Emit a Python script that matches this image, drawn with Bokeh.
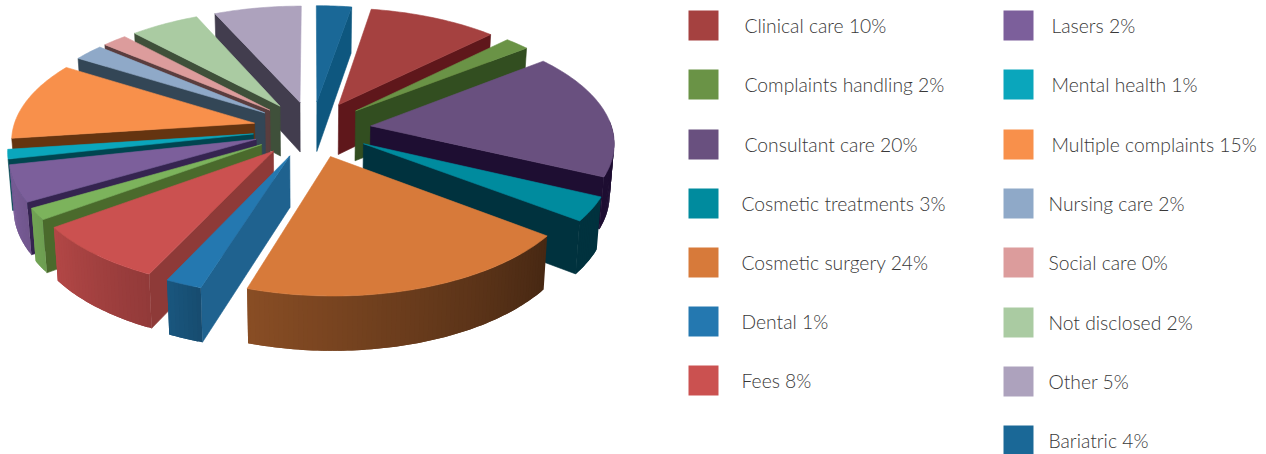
import numpy as np
from bokeh.plotting import figure
from bokeh.models import Range1d, ColumnDataSource
from bokeh.core.properties import value
from bokeh.embed import file_html
from bokeh.resources import INLINE

# ---- data (clockwise from 12 o'clock)
slice_names = ["Bariatric", "Clinical care", "Complaints handling", "Consultant care",
               "Cosmetic treatments", "Cosmetic surgery", "Dental", "Fees", "(unlabelled)",
               "Lasers", "Mental health", "Multiple complaints", "Nursing care",
               "Social care", "Not disclosed", "Other"]
slice_shares = [2.7, 9.9, 1.9, 17.5, 3.3, 19.6, 2.1, 8.0, 1.6, 5.0, 1.3, 10.9, 2.3, 1.9, 5.3, 6.7]
slice_colors = ["#1a6897", "#a54140", "#6a9346", "#69507f", "#008b9e", "#d77a3a", "#2478b0",
                "#cb5150", "#7cb35c", "#7c5f9b", "#0aa6bc", "#f8904b", "#8fa9c8", "#dc9c9c",
                "#aacba2", "#ada2bd"]
# colour of each slice's visible cut face
side_colors = ["#0e577f", "#5f171b", "#324e20", "#1e0e32", "#00323e", "#5a2e0e", "#1f628f",
               "#8e3a38", "#4a6a2c", "#352450", "#004550", "#653410", "#334656", "#5a3d3e",
               "#3f503a", "#423d4e"]

# legend
legend_col1 = ["Clinical care 10%", "Complaints handling 2%", "Consultant care 20%",
               "Cosmetic treatments 3%", "Cosmetic surgery 24%", "Dental 1%", "Fees 8%"]
legend_col1_colors = ["#a54140", "#6a9346", "#69507f", "#008b9e", "#d77a3a", "#2478b0", "#cb5150"]
legend_col1_top = [10, 69, 129, 188, 247, 306, 365]
legend_col1_tx = [744, 744, 744, 741, 741, 741, 741]
legend_col2 = ["Lasers 2%", "Mental health 1%", "Multiple complaints 15%", "Nursing care 2%",
               "Social care 0%", "Not disclosed 2%", "Other 5%", "Bariatric 4%"]
legend_col2_colors = ["#7c5f9b", "#0aa6bc", "#f8904b", "#8fa9c8", "#dc9c9c", "#aacba2", "#ada2bd", "#1a6897"]
legend_col2_top = [10, 69, 129, 188, 247, 307, 366, 425]
legend_col2_tx = [1051, 1051, 1051, 1048, 1048, 1048, 1048, 1048]

# ---- pie model
CX, CY, BX, BY, PERSP = 311.5, 128.5, 241.5, 114.5, 0.125
EXPLODE = 0.245


def proj(u, v, lower=False):
    u, v = np.asarray(u, float), np.asarray(v, float)
    s = 1 / (1 - PERSP * v)
    x = CX + BX * u * s
    y = CY + BY * v * s
    if lower:
        x = CX + (x - CX) * 0.985
        y = y + 50.5 + 3.5 * v
    return x, y


def shade(col, f):
    r, g, b = (int(col[i:i + 2], 16) for i in (1, 3, 5))
    return "#%02x%02x%02x" % (int(r * f), int(g * f), int(b * f))


rim_a = [127, 198, 205, 237, 258]
rim_f = [0.33, 0.64, 0.72, 0.9, 1.0]

ends = np.cumsum(slice_shares) / np.sum(slice_shares) * 360
starts = np.concatenate([[0], ends[:-1]])
mids = (starts + ends) / 2
order = np.argsort(-np.cos(np.radians(mids)))

xs, ys, cols, lalpha = [], [], [], []


def add(xa, ya, c, la=1.0):
    xs.append(list(map(float, xa)))
    ys.append(list(map(float, ya)))
    cols.append(c)
    lalpha.append(la)


for i in order:
    a0, a1, m, c = starts[i], ends[i], mids[i], slice_colors[i]
    au = EXPLODE * np.sin(np.radians(m))
    av = -EXPLODE * np.cos(np.radians(m))
    th = np.radians(np.arange(a0, a1, 1.0).tolist() + [a1])
    ru = au + np.sin(th)
    rv = av - np.cos(th)
    # cut faces that look toward the viewer
    for edge, nrm in ((a0, a0 - 90), (a1, a1 + 90)):
        if -np.cos(np.radians(nrm)) > 0.02:
            eu = au + np.sin(np.radians(edge))
            ev = av - np.cos(np.radians(edge))
            t = proj([au, eu], [av, ev])
            b = proj([au, eu], [av, ev], True)
            add([t[0][0], t[0][1], b[0][1], b[0][0]],
                [t[1][0], t[1][1], b[1][1], b[1][0]], side_colors[i])
    # rim wall, split in small overlapping facets for the gradient
    tx, ty = proj(ru, rv)
    bx, by = proj(ru, rv, True)
    n = len(th) - 1
    for k in range(n):
        ang = np.degrees((th[k] + th[k + 1]) / 2)
        if 87 < ang < 258:
            fc = side_colors[i] if ang < 127 else shade(c, float(np.interp(ang, rim_a, rim_f)))
            e = min(k + 2, n)
            tail_x = [tx[j] for j in range(k, e + 1)]
            tail_y = [ty[j] for j in range(k, e + 1)]
            base_x = [bx[j] for j in range(e, k - 1, -1)]
            base_y = [by[j] for j in range(e, k - 1, -1)]
            add(tail_x + base_x, tail_y + base_y, fc, 0.0)
    # top face
    ax, ay = proj([au], [av])
    add(np.concatenate([ax, tx]), np.concatenate([ay, ty]), c)

p = figure(width=1266, height=454, x_range=Range1d(0, 1266), y_range=Range1d(454, 0),
           output_backend="svg", toolbar_location=None, min_border=0,
           background_fill_color="white", border_fill_color="white")
p.axis.visible = False
p.grid.visible = False
p.outline_line_color = None

p.patches("xs", "ys", source=ColumnDataSource(dict(xs=xs, ys=ys, c=cols, la=lalpha)),
          fill_color="c", line_color="c", line_alpha="la", line_width=0.6)

SW = 30
for names, colors, tops, tx_, left in ((legend_col1, legend_col1_colors, legend_col1_top, legend_col1_tx, 688),
                                       (legend_col2, legend_col2_colors, legend_col2_top, legend_col2_tx, 1003)):
    p.quad(left=[left] * len(names), right=[left + SW] * len(names),
           top=tops, bottom=[t + SW for t in tops], fill_color=colors, line_color=None)
    p.text(x=tx_, y=[t + SW / 2 for t in tops], text=names,
           text_font=value("Lato Light"), text_font_size="19.3px",
           text_color="#383838", text_baseline="middle", text_align="left")

open("out.html", "w").write(file_html(p, INLINE))
